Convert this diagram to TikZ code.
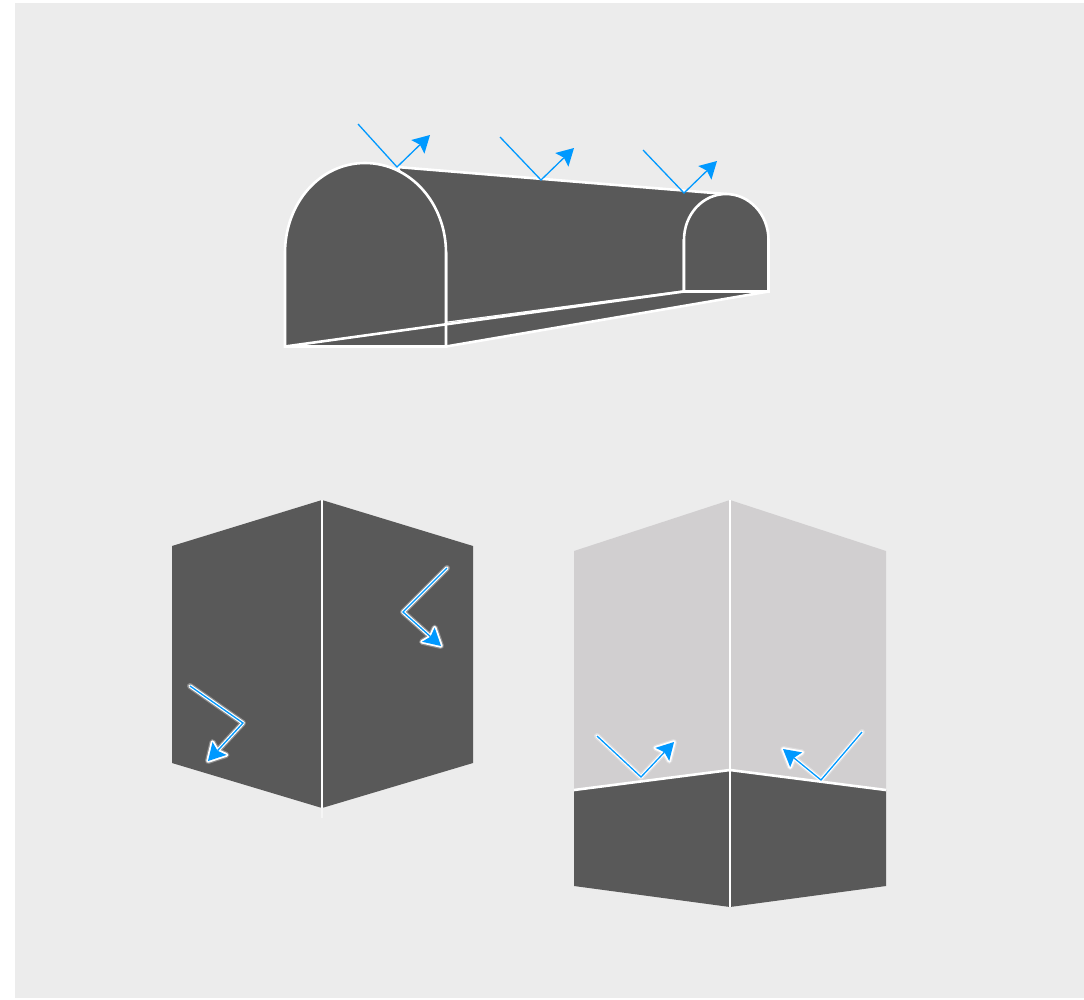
\documentclass[tikz,border=0pt]{standalone}
\usepackage{tikz}
\usetikzlibrary{calc}
\definecolor{panelgray}{HTML}{ECECEC}
\definecolor{wallgray}{HTML}{595959}
\definecolor{lightwall}{HTML}{D1CFD0}
\definecolor{raycolor}{HTML}{0099FF}
\tikzset{
  wall/.style={fill=wallgray,draw=white,line width=2.6pt},
  ray/.style={raycolor,line width=1.3pt},
  raytip/.style={fill=raycolor},
  rayglow/.style={white,line width=3.6pt,line join=round,line cap=round},
  rayhalo/.style={white,opacity=0.3,line width=6pt,line join=round,line cap=round}
}
% start, bend and end of a ray, and the corners of its head
\newcommand{\raypoints}[3]{
  \coordinate (raya) at (#1);
  \coordinate (rayb) at (#2);
  \coordinate (rayc) at (#3);
  \coordinate (rayl) at ($(rayc)!17pt!(rayb)!9.5pt!90:(rayb)$);
  \coordinate (rayr) at ($(rayc)!17pt!(rayb)!9.5pt!-90:(rayb)$);
  \coordinate (rayn) at ($(rayc)!14pt!(rayb)$);
}
\begin{document}
\begin{tikzpicture}[x=1pt,y=-1pt]
\useasboundingbox (0,0) rectangle (1084,999);
% gray panel
\fill[panelgray] (15,3) rectangle (1084,998);
% tunnel body
\draw[wall] (397,167) -- (726,194) -- (684,240) -- (684,291.5) -- (446,323) -- (446,253) -- cycle;
\fill[wallgray] (285,346.5) -- (446,323) -- (684,291.5) -- (768.5,291.5) -- (446,346.5) -- cycle;
% near arch
\draw[wall] (285,346.5) -- (285,253) .. controls (285,203) and (320,163) .. (365,163)
  .. controls (410,163) and (446,203) .. (446,253) -- (446,346.5) -- cycle;
% floor lines
\draw[white,line width=2.6pt] (285,346.5) -- (684,291.5);
\draw[white,line width=2.6pt] (446,346.5) -- (768.5,291.5);
% far arch
\draw[wall] (684,291.5) -- (684,240) .. controls (684,214) and (703,194) .. (726,194)
  .. controls (749,194) and (768.5,214) .. (768.5,240) -- (768.5,291.5) -- cycle;
% rays on the tunnel roof
\foreach \ax/\ay/\bx/\by/\cx/\cy in {358/124/397/167/430/135,500/137/541/180/574/148,643/150/684/193/717/161} {
  \raypoints{\ax,\ay}{\bx,\by}{\cx,\cy}
  \draw[ray] (raya) -- (rayb) -- (rayn);
  \fill[raytip] (rayc) -- (rayl) -- (rayn) -- (rayr) -- cycle;
}
% left box
\fill[wallgray] (172,546) -- (322,500) -- (473,546) -- (473,763) -- (322,808) -- (172,763) -- cycle;
\draw[white,line width=2.4pt] (322,500) -- (322,808);
\draw[white,opacity=0.5,line width=2.4pt] (322,808) -- (322,818);
% right box, upper part
\fill[lightwall] (574,551) -- (730,500) -- (886,551) -- (886,790) -- (730,770) -- (574,790) -- cycle;
% right box, lower part
\fill[wallgray] (574,790) -- (730,770) -- (886,790) -- (886,886) -- (730,907) -- (574,886) -- cycle;
\draw[white,line width=2.6pt] (574,790) -- (730,770) -- (886,790);
\draw[white,line width=2.6pt] (730,500) -- (730,907);
% rays on the box walls
\foreach \ax/\ay/\bx/\by/\cx/\cy in {190/686/243/723/208/761,447/568/403/612/441/646,597/736/641/777/674/742,862/732/821/780/783/749} {
  \raypoints{\ax,\ay}{\bx,\by}{\cx,\cy}
  \draw[rayhalo] (raya) -- (rayb) -- (rayn) (rayc) -- (rayl) -- (rayn) -- (rayr) -- cycle;
  \draw[rayglow] (raya) -- (rayb) -- (rayn) (rayc) -- (rayl) -- (rayn) -- (rayr) -- cycle;
  \draw[ray] (raya) -- (rayb) -- (rayn);
  \fill[raytip] (rayc) -- (rayl) -- (rayn) -- (rayr) -- cycle;
}
\end{tikzpicture}
\end{document}
